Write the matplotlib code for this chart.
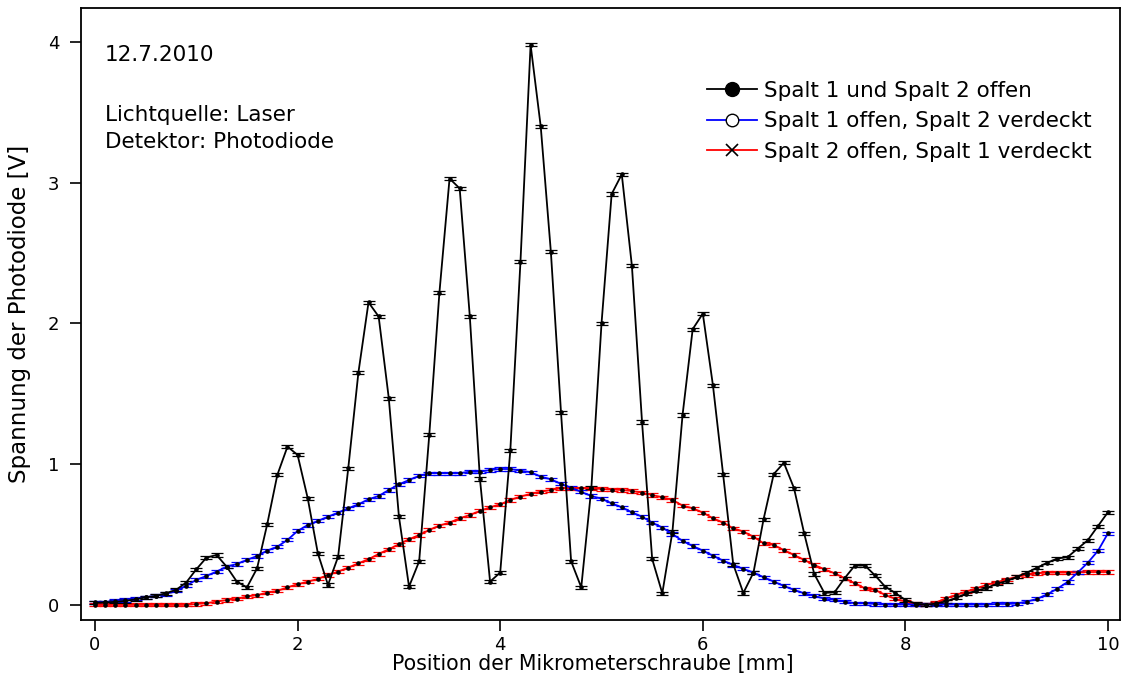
import numpy as np
import matplotlib
matplotlib.use("Agg")
import matplotlib.pyplot as plt
from matplotlib.lines import Line2D

# Mikrometerschraube position [mm], step 0.1
pos = [round(0.1 * i, 1) for i in range(101)]

# Spalt 1 und Spalt 2 offen
both_open = [
    0.015, 0.018, 0.022, 0.028, 0.040, 0.054, 0.064, 0.083, 0.107, 0.159,
    0.253, 0.336, 0.355, 0.272, 0.166, 0.125, 0.260, 0.573, 0.924, 1.125,
    1.066, 0.758, 0.367, 0.142, 0.343, 0.971, 1.650, 2.150, 2.050, 1.470,
    0.630, 0.130, 0.310, 1.210, 2.220, 3.030, 2.960, 2.050, 0.895, 0.166,
    0.230, 1.100, 2.440, 3.980, 3.400, 2.510, 1.370, 0.310, 0.125, 0.834,
    2.000, 2.920, 3.060, 2.410, 1.300, 0.327, 0.083, 0.520, 1.350, 1.960,
    2.070, 1.560, 0.930, 0.290, 0.085, 0.230, 0.610, 0.930, 1.010, 0.830,
    0.510, 0.220, 0.085, 0.090, 0.190, 0.280, 0.280, 0.210, 0.130, 0.085,
    0.035, 0.010, 0.000, 0.010, 0.025, 0.050, 0.080, 0.100, 0.120, 0.150,
    0.170, 0.200, 0.230, 0.265, 0.300, 0.330, 0.340, 0.400, 0.460, 0.560,
    0.660,
]

# Spalt 1 offen, Spalt 2 verdeckt
slit1_open = [
    0.020, 0.020, 0.030, 0.035, 0.045, 0.055, 0.064, 0.078, 0.100, 0.137,
    0.178, 0.206, 0.237, 0.272, 0.291, 0.320, 0.348, 0.386, 0.414, 0.462,
    0.526, 0.568, 0.597, 0.627, 0.656, 0.687, 0.715, 0.751, 0.774, 0.817,
    0.857, 0.888, 0.917, 0.936, 0.936, 0.936, 0.936, 0.947, 0.947, 0.959,
    0.966, 0.966, 0.954, 0.943, 0.912, 0.893, 0.860, 0.833, 0.803, 0.774,
    0.755, 0.722, 0.694, 0.658, 0.627, 0.585, 0.550, 0.504, 0.455, 0.419,
    0.386, 0.350, 0.315, 0.284, 0.256, 0.230, 0.197, 0.166, 0.135, 0.107,
    0.083, 0.064, 0.045, 0.036, 0.024, 0.012, 0.012, 0.007, 0.003, 0.003,
    0.003, 0.003, 0.003, 0.003, 0.003, 0.003, 0.003, 0.003, 0.003, 0.007,
    0.007, 0.010, 0.024, 0.043, 0.076, 0.116, 0.163, 0.230, 0.300, 0.384,
    0.510,
]

# Spalt 2 offen, Spalt 1 verdeckt
slit2_open = [
    0.000, 0.000, 0.000, 0.000, 0.000, 0.000, 0.000, 0.000, 0.000, 0.000,
    0.007, 0.012, 0.024, 0.035, 0.043, 0.060, 0.070, 0.087, 0.100, 0.125,
    0.147, 0.165, 0.185, 0.213, 0.237, 0.265, 0.296, 0.325, 0.362, 0.396,
    0.431, 0.467, 0.497, 0.533, 0.564, 0.585, 0.616, 0.639, 0.668, 0.694,
    0.715, 0.746, 0.770, 0.789, 0.805, 0.817, 0.829, 0.829, 0.829, 0.829,
    0.824, 0.820, 0.817, 0.810, 0.798, 0.781, 0.765, 0.746, 0.706, 0.687,
    0.656, 0.616, 0.585, 0.545, 0.521, 0.485, 0.438, 0.426, 0.390, 0.355,
    0.320, 0.284, 0.254, 0.225, 0.190, 0.154, 0.118, 0.107, 0.071, 0.043,
    0.024, 0.007, 0.000, 0.017, 0.047, 0.071, 0.095, 0.118, 0.142, 0.161,
    0.182, 0.200, 0.213, 0.225, 0.230, 0.230, 0.230, 0.232, 0.234, 0.234,
    0.234,
]

err = 0.011  # Messunsicherheit [V]

series = [
    (both_open, "black", "Spalt 1 und Spalt 2 offen"),
    (slit1_open, "#0000ff", "Spalt 1 offen, Spalt 2 verdeckt"),
    (slit2_open, "#ff0000", "Spalt 2 offen, Spalt 1 verdeckt"),
]

plt.rcParams["font.family"] = ["DejaVu Sans"]
fig = plt.figure(figsize=(11.23, 6.82), dpi=100)
ax = fig.add_axes([81 / 1123, 1 - 620 / 682, 1039 / 1123, 612 / 682])

# draw order: red at the back, black on top
for vals, col, lab in series[::-1]:
    ax.errorbar(pos, vals, yerr=err, color=col, lw=1.3, ecolor=col,
                elinewidth=0.9, capsize=4.5, capthick=0.9,
                marker="o", ms=2.3, mfc="black", mec="black")

ax.set_xlim(-0.138, 10.118)
ax.set_ylim(-0.107, 4.242)
ax.set_xticks([0, 2, 4, 6, 8, 10])
ax.set_yticks([0, 1, 2, 3, 4])
ax.tick_params(direction="out", length=7.7, width=1.2, labelsize=13)
ax.tick_params(axis="y", pad=8)
for s in ax.spines.values():
    s.set_linewidth(1.3)

ax.set_xlabel("Position der Mikrometerschraube [mm]", fontsize=14.8, labelpad=2)
ax.xaxis.set_label_coords(0.493, -0.055)
ax.set_ylabel("Spannung der Photodiode [V]", fontsize=16.5, labelpad=12)

ax.text(0.023, 0.94, "12.7.2010", transform=ax.transAxes,
        fontsize=15.5, va="top")
ax.text(0.023, 0.842, "Lichtquelle: Laser\nDetektor: Photodiode",
        transform=ax.transAxes, fontsize=15.5, va="top", linespacing=1.45)

handles = [
    Line2D([], [], color="black", lw=1.3, marker="o", ms=10,
           mfc="black", mec="black"),
    Line2D([], [], color="#0000ff", lw=1.3, marker="o", ms=9,
           mfc="white", mec="black"),
    Line2D([], [], color="#ff0000", lw=1.3, marker="x", ms=9,
           mec="black", mew=1.2),
]
ax.legend(handles, [s[2] for s in series], loc="upper left",
          bbox_to_anchor=(0.6025, 0.881), frameon=False, fontsize=15.5,
          handlelength=2.3, handletextpad=0.37, labelspacing=0.49,
          borderpad=0, borderaxespad=0)

fig.savefig("out.png", dpi=100)
